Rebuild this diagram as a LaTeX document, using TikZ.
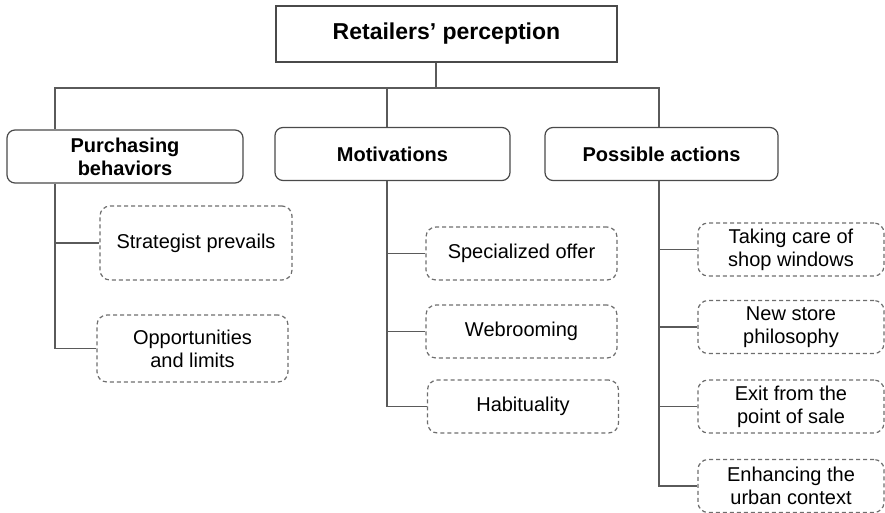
\documentclass[tikz,border=0pt]{standalone}
\usepackage{fontspec}
\setmainfont{Liberation Sans}
\begin{document}
\begin{tikzpicture}[x=0.5pt,y=-0.5pt]
        \definecolor{boxgray}{HTML}{4A4A4A}
        \definecolor{linegray}{HTML}{5A5A5A}
        \definecolor{dashgray}{HTML}{6E6E6E}
        \tikzstyle{rootbox} = [draw=boxgray, line width=0.6pt, inner sep=0pt, align=center, minimum width=170.5pt, minimum height=28pt, font=\fontsize{11.5}{13}\selectfont\bfseries]
        \tikzstyle{catbox} = [draw=boxgray, line width=0.6pt, rounded corners=4pt, inner sep=0pt, align=center, minimum width=117.5pt, minimum height=26.5pt, font=\fontsize{10}{11.5}\selectfont\bfseries]
        \tikzstyle{itembox} = [draw=dashgray, line width=0.6pt, dash pattern=on 2pt off 1.5pt, rounded corners=5pt, inner sep=0pt, align=center, minimum width=95.5pt, minimum height=26.5pt, font=\fontsize{10}{11.5}\selectfont]
        \tikzstyle{link} = [draw=linegray, line width=0.6pt]
        \useasboundingbox (0,0) rectangle (885,513);

        \node[rootbox] (ret) at (446.5,34) {Retailers’ perception};
        \node[catbox, minimum width=118pt] (pur) at (125,156.5) {Purchasing\\behaviors};
        \node[catbox] (mot) at (392.5,154) {Motivations};
        \node[catbox, minimum width=116.5pt] (act) at (661.5,154) {Possible actions};

        \node[itembox, minimum width=96pt, minimum height=37pt] (strat) at (196,243) {Strategist prevails};
        \node[itembox, minimum height=33.5pt] (oppo) at (192.5,348.5) {Opportunities\\and limits};

        \node[itembox] (spec) at (521.5,253.5) {Specialized offer};
        \node[itembox] (webr) at (521.5,331.5) {Webrooming};
        \node[itembox] (habi) at (523,406.5) {Habituality};

        \node[itembox, minimum width=93pt] (shop) at (791,249.5) {Taking care of\\shop windows};
        \node[itembox, minimum width=93pt] (phil) at (791,327) {New store\\philosophy};
        \node[itembox, minimum width=93pt] (exit) at (791,406.5) {Exit from the\\point of sale};
        \node[itembox, minimum width=93pt] (urban) at (791,486) {Enhancing the\\urban context};

        % spines of the tree
        \coordinate (bar) at (436,88);
        \coordinate (purx) at (55,0);
        \coordinate (motx) at (387,0);
        \coordinate (actx) at (659,0);

        \draw[link] (ret.south -| bar) -- (bar);
        \draw[link] (pur.north -| purx) |- (bar);
        \draw[link] (mot.north -| motx) |- (bar);
        \draw[link] (act.north -| actx) |- (bar);

        \draw[link] (pur.south -| purx) |- (strat.west);
        \draw[link] (pur.south -| purx) |- (oppo.west);

        \draw[link] (mot.south -| motx) |- (spec.west);
        \draw[link] (mot.south -| motx) |- (webr.west);
        \draw[link] (mot.south -| motx) |- (habi.west);

        \draw[link] (act.south -| actx) |- (shop.west);
        \draw[link] (act.south -| actx) |- (phil.west);
        \draw[link] (act.south -| actx) |- (exit.west);
        \draw[link] (act.south -| actx) |- (urban.west);
      \end{tikzpicture}
\end{document}
